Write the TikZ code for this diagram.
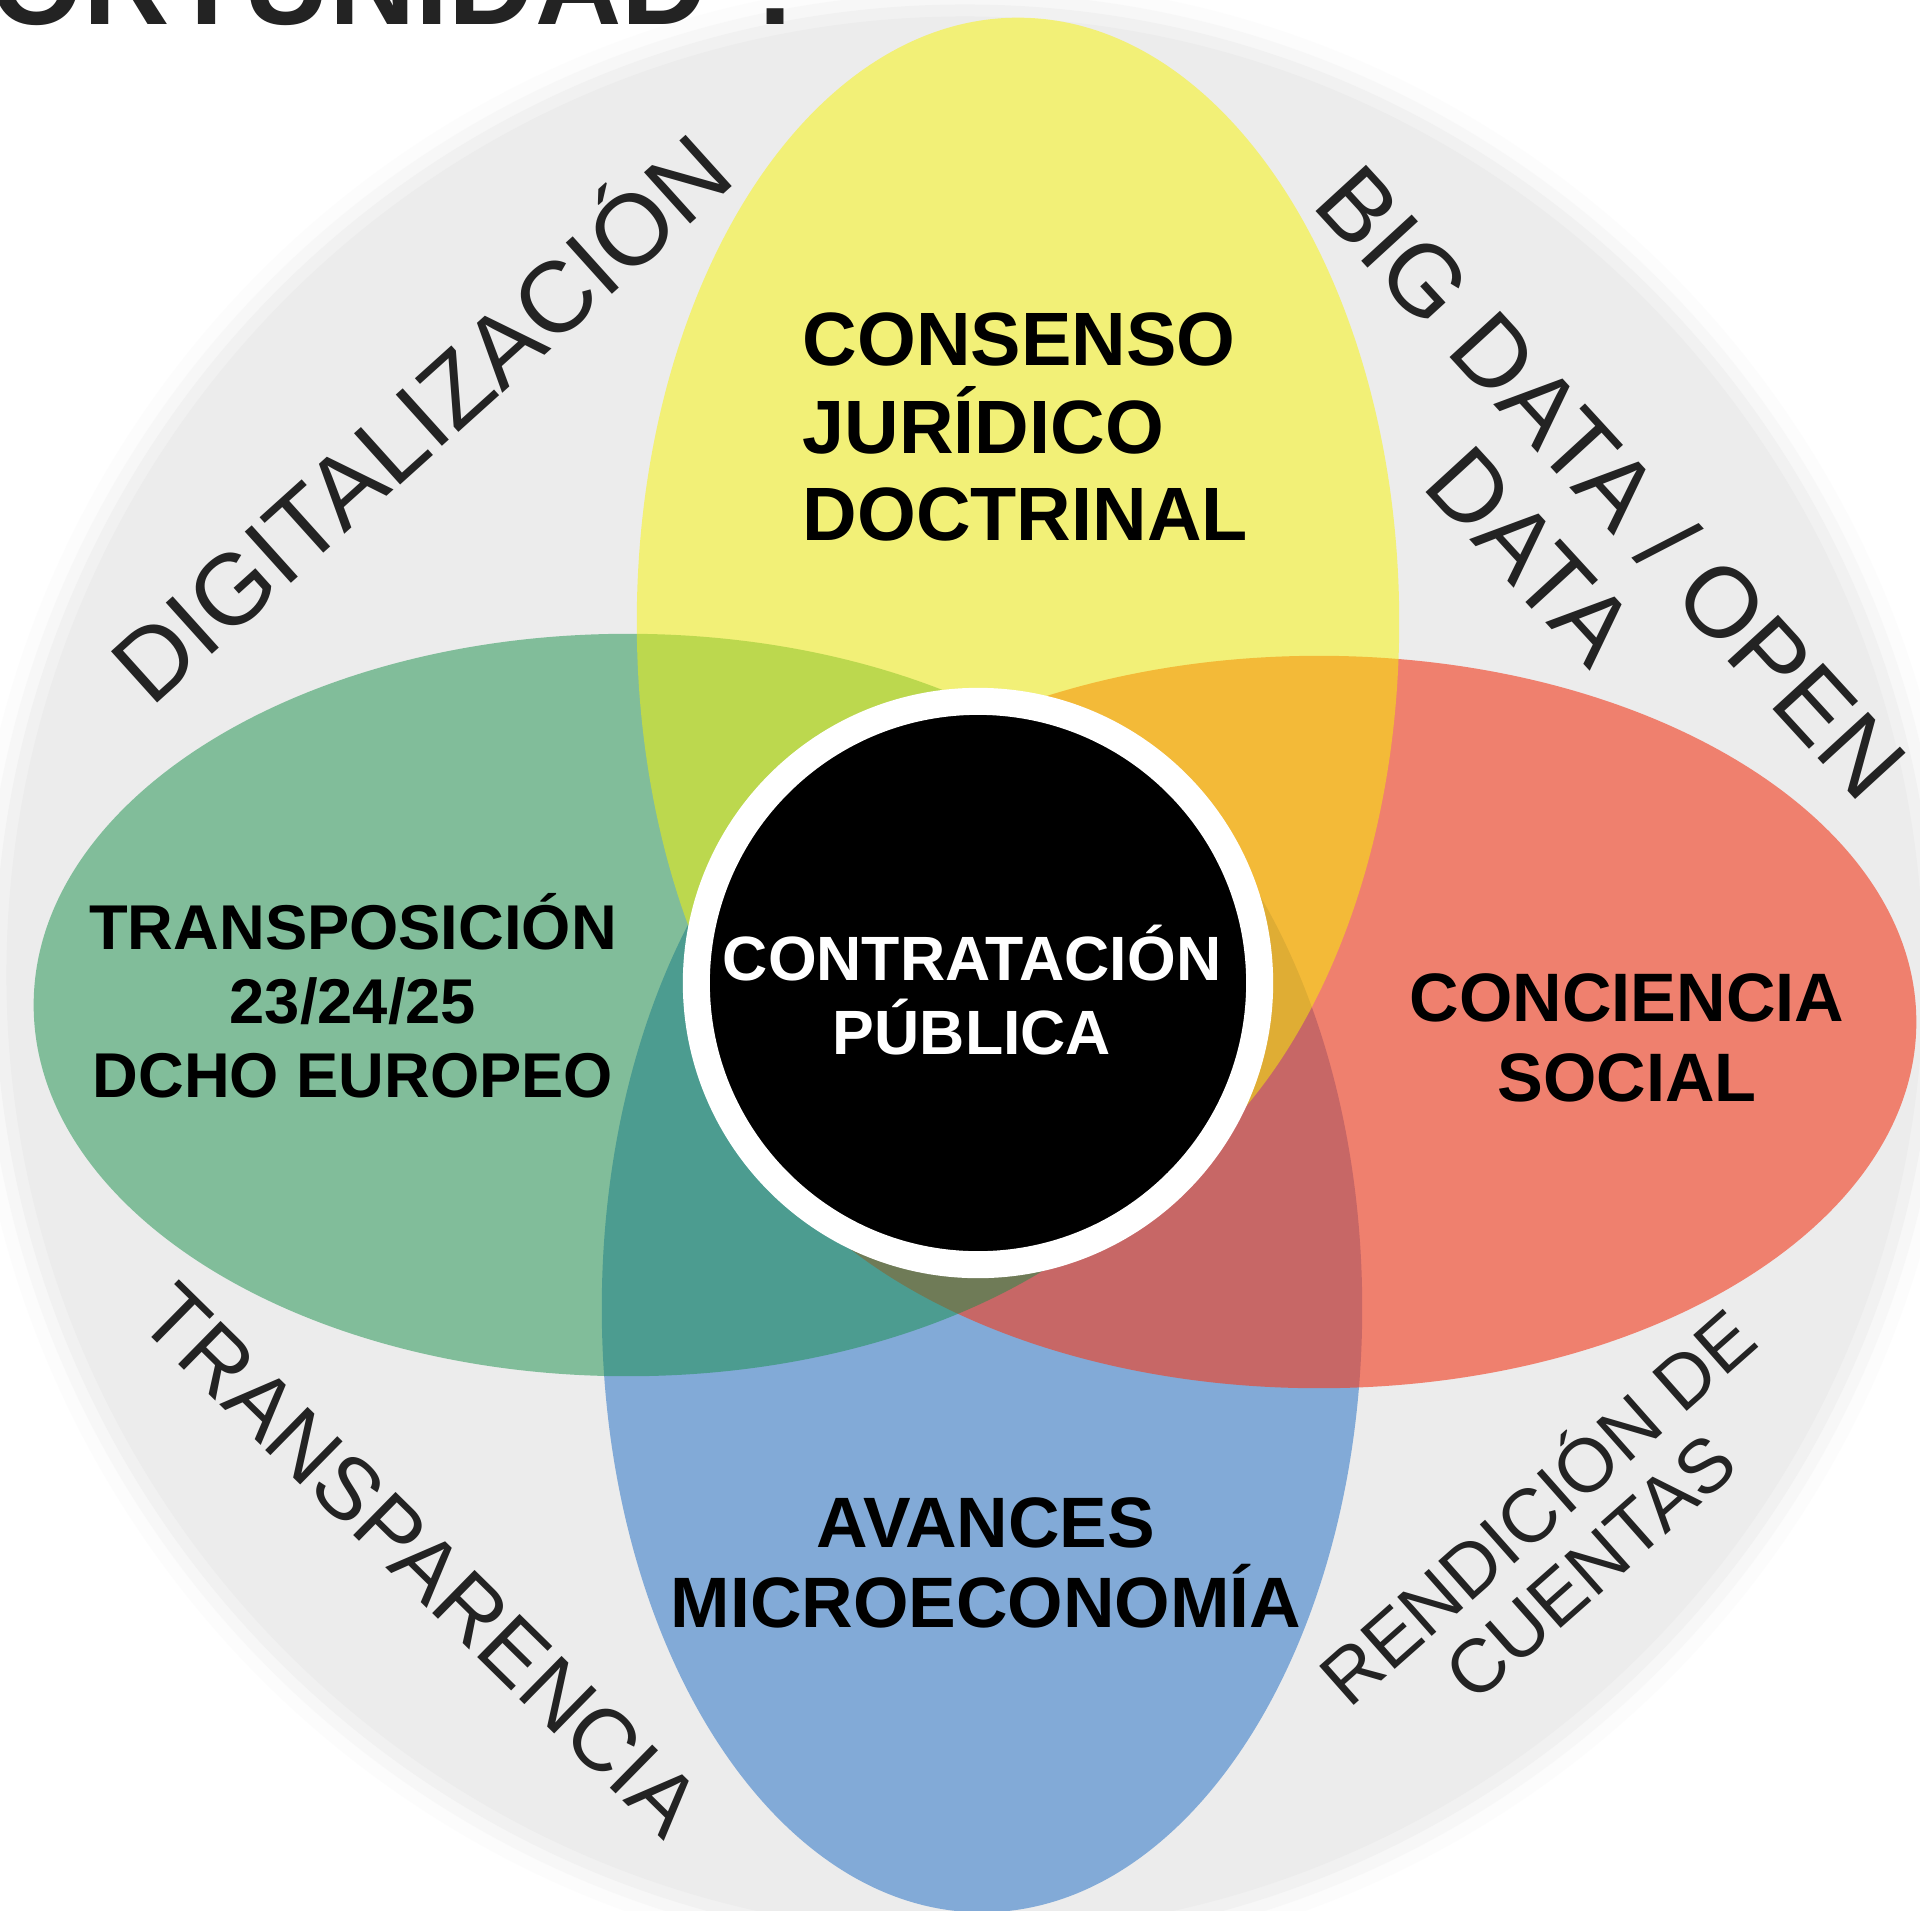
\documentclass[tikz,border=0pt]{standalone}
\usepackage{fontspec}
\setmainfont{Liberation Sans}
\usepackage{tikz}

\definecolor{fondo}{RGB}{236,236,236}
\definecolor{amarillo}{RGB}{248,244,4}
\definecolor{verde}{RGB}{24,144,74}
\definecolor{rojo}{RGB}{242,62,33}
\definecolor{azul}{RGB}{130,170,215}
\definecolor{texto}{RGB}{35,35,35}

\begin{document}
\begin{tikzpicture}[x=0.01cm, y=-0.01cm,
    aro/.style={text=texto, align=center, inner sep=0pt},
    petalo/.style={text=black, align=center, inner sep=0pt}]
  \useasboundingbox (0,0) rectangle (1920,1911);
  \clip (0,0) rectangle (1920,1911);
  \fill[white] (0,0) rectangle (1920,1911);
  % fondo gris con borde suave
  \foreach \r/\o in {9.95/0.12, 9.82/0.25, 9.70/0.5, 9.58/1}
    \fill[fondo, opacity=\o] (965,975) circle (\r cm);
  % los cuatro petalos
  \fill[azul] (982,1308) ellipse (3.80cm and 6.04cm);
  \fill[rojo, opacity=0.62] (1319,1022) ellipse (5.97cm and 3.66cm);
  \fill[verde, opacity=0.5] (628,1005) ellipse (5.94cm and 3.71cm);
  \fill[amarillo, opacity=0.5] (1018,622) ellipse (3.81cm and 6.04cm);
  % centro
  \node[circle, fill=black, draw=white, line width=0.27cm, minimum size=5.63cm] (centro) at (978,983) {};
  \node[text=white, align=center, font=\bfseries\fontsize{17.8}{20.8}\selectfont] (contratacion) at (972,990) {CONTRATACIÓN\\PÚBLICA};
  % textos de los petalos
  \node[petalo, align=left, anchor=west, font=\bfseries\fontsize{21.5}{24.8}\selectfont] (consenso) at (802,427) {CONSENSO\\JURÍDICO\\DOCTRINAL};
  \node[petalo, font=\bfseries\fontsize{18}{21}\selectfont] (transposicion) at (353,996) {TRANSPOSICIÓN\\23/24/25\\DCHO EUROPEO};
  \node[petalo, font=\bfseries\fontsize{19.5}{22.8}\selectfont] (conciencia) at (1627,1038) {CONCIENCIA\\SOCIAL};
  \node[petalo, font=\bfseries\fontsize{20.3}{22.8}\selectfont] (avances) at (986,1563) {AVANCES\\MICROECONOMÍA};
  % textos del aro
  \node[aro, rotate=42, font=\fontsize{28.5}{29}\selectfont] (digitalizacion) at (416,413) {DIGITALIZACIÓN};
  \node[aro, rotate=-44.5, font=\fontsize{25}{26}\selectfont] (transparencia) at (421,1560) {TRANSPARENCIA};
  \node[aro, rotate=-47.5, font=\fontsize{28.3}{31}\selectfont] (bigdata) at (1572,518) {BIG DATA / OPEN\\DATA};
  \node[aro, rotate=41.5, font=\fontsize{21.5}{22.5}\selectfont] (rendicion) at (1560,1533) {RENDICIÓN DE\\CUENTAS};
  % titulo cortado
  \node[anchor=base west, inner sep=0pt, text=texto, font=\bfseries\fontsize{34}{36}\selectfont] (titulo) at (-10,24) {ORTUNIDAD ?};
\end{tikzpicture}
\end{document}
